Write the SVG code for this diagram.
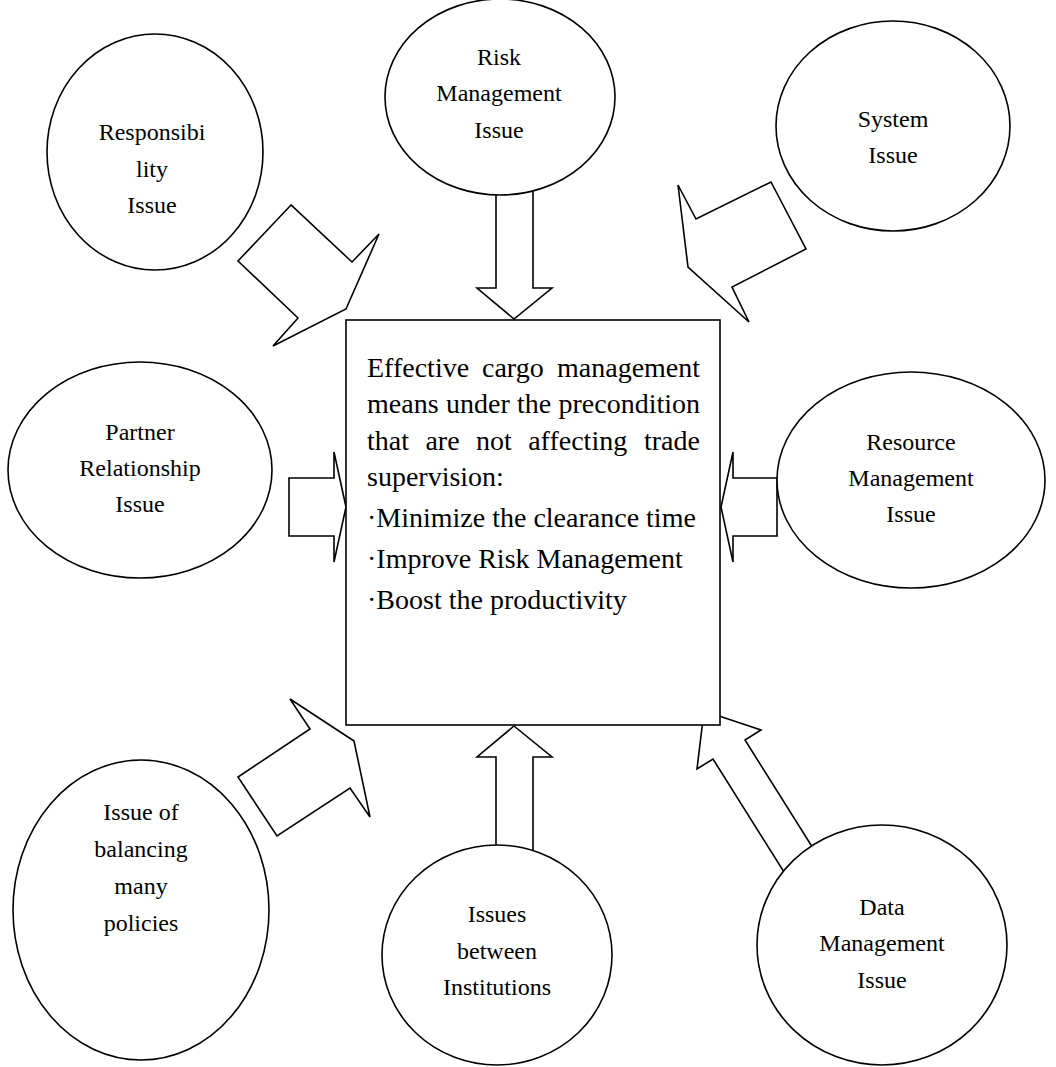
<svg xmlns="http://www.w3.org/2000/svg" width="1056" height="1067" viewBox="0 0 1056 1067">
<style>
.shape{fill:#fff;stroke:#000;stroke-width:1.6}
.arrow{fill:#fff;stroke:#000;stroke-width:1.6;stroke-linejoin:miter}
.t{font-family:"Liberation Serif","Times New Roman",serif;font-size:24px;fill:#000;text-anchor:middle}
.b{font-family:"Liberation Serif","Times New Roman",serif;font-size:28px;fill:#000}
</style>
<rect width="1056" height="1067" fill="#fff"/>
<g id="connectors">
<polygon class="arrow" points="496,150 533,150 533,288 552,288 514,319 477,288 496,288"/>
<polygon class="arrow" points="514,726 552,757 533,757 533,880 496,880 496,757 477,757"/>
<polygon class="arrow" points="291,205 238,261 298,318 273,346 346,309 379,234 352,262"/>
<polygon class="arrow" points="678,185 696,219 771,182 806,249 732,287 749,322 688,267"/>
<polygon class="arrow" points="354,741 290,699 310,729 238,777 277,836 350,788 370,817"/>
<polygon class="arrow" points="704,711 761,730 745,740 833,880 789,880 713,759 697,769"/>
<polygon class="arrow" points="346,507 334,452 334,478 289,478 289,536 334,536 334,562"/>
<polygon class="arrow" points="721,507 733,452 733,478 777,478 777,536 733,536 733,562"/>
</g>
<g id="box">
<rect class="shape" x="346" y="320" width="374" height="405"/>
<text class="b" y="377"><tspan x="367">Effective</tspan><tspan x="482">cargo</tspan><tspan x="557">management</tspan></text>
<text class="b" y="413"><tspan x="367">means</tspan><tspan x="446">under</tspan><tspan x="517">the</tspan><tspan x="558.5">precondition</tspan></text>
<text class="b" y="450"><tspan x="367">that</tspan><tspan x="425.4">are</tspan><tspan x="476">not</tspan><tspan x="528.2">affecting</tspan><tspan x="644">trade</tspan></text>
<text class="b" x="367" y="486">supervision:</text>
<text class="b" x="367" y="527">·Minimize the clearance time</text>
<text class="b" x="367" y="568">·Improve Risk Management</text>
<text class="b" x="367" y="609">·Boost the productivity</text>
</g>
<g id="responsibility">
<ellipse class="shape" cx="155" cy="152" rx="108" ry="118"/>
<text class="t" x="152" y="140">Responsibi</text>
<text class="t" x="152" y="177">lity</text>
<text class="t" x="152" y="213">Issue</text>
</g>
<g id="risk">
<ellipse class="shape" cx="500" cy="97" rx="115" ry="98"/>
<text class="t" x="499" y="65">Risk</text>
<text class="t" x="499" y="101">Management</text>
<text class="t" x="499" y="138">Issue</text>
</g>
<g id="system">
<ellipse class="shape" cx="893" cy="126" rx="117" ry="105"/>
<text class="t" x="893" y="127">System</text>
<text class="t" x="893" y="163">Issue</text>
</g>
<g id="partner">
<ellipse class="shape" cx="140" cy="470" rx="132" ry="108"/>
<text class="t" x="140" y="440">Partner</text>
<text class="t" x="140" y="476">Relationship</text>
<text class="t" x="140" y="512">Issue</text>
</g>
<g id="resource">
<ellipse class="shape" cx="911" cy="480" rx="134" ry="108"/>
<text class="t" x="911" y="450">Resource</text>
<text class="t" x="911" y="486">Management</text>
<text class="t" x="911" y="522">Issue</text>
</g>
<g id="balancing">
<ellipse class="shape" cx="141" cy="910" rx="128" ry="150"/>
<text class="t" x="141" y="820">Issue of</text>
<text class="t" x="141" y="857">balancing</text>
<text class="t" x="141" y="894">many</text>
<text class="t" x="141" y="931">policies</text>
</g>
<g id="institutions">
<ellipse class="shape" cx="497" cy="955" rx="115" ry="110"/>
<text class="t" x="497" y="922">Issues</text>
<text class="t" x="497" y="959">between</text>
<text class="t" x="497" y="995">Institutions</text>
</g>
<g id="data">
<ellipse class="shape" cx="882" cy="945" rx="125" ry="120"/>
<text class="t" x="882" y="915">Data</text>
<text class="t" x="882" y="951">Management</text>
<text class="t" x="882" y="988">Issue</text>
</g>
</svg>
